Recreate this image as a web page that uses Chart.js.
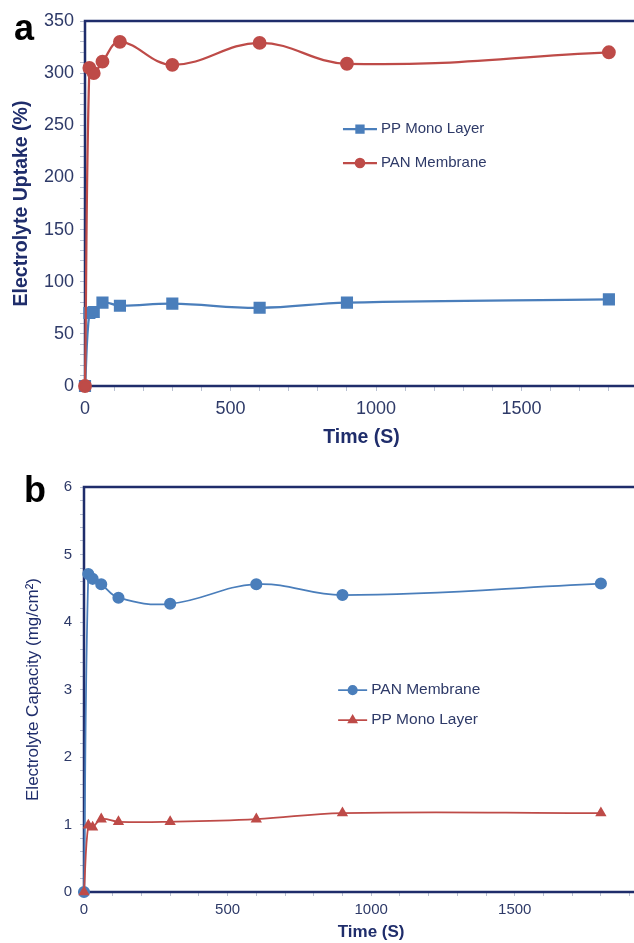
<!DOCTYPE html>
<html>
<head>
<meta charset="utf-8">
<script src="https://cdn.jsdelivr.net/npm/chart.js@4"></script>
<style>
    body { margin:0; width:634px; height:943px; overflow:hidden; background:#fff; position:relative; font-family:'Liberation Sans', Arial, sans-serif; }
    .panel { position:absolute; left:0; }
    .letter { position:absolute; font-weight:bold; font-size:36px; color:#000; line-height:1; }
</style>
</head>
<body>
<div class="panel" style="top:0; width:650px; height:470px;"><canvas id="chartA"></canvas></div>
<div class="panel" style="top:470px; width:680px; height:473px;"><canvas id="chartB"></canvas></div>
<div class="letter" style="left:14px; top:10px;">a</div>
<div class="letter" style="left:24px; top:472px;">b</div>
<script>
// time points (s)
const timeA = [0, 15, 30, 60, 120, 300, 600, 900, 1800];
const timeB = [0, 15, 30, 60, 120, 300, 600, 900, 1800];

// panel a: electrolyte uptake (%)
const uptakePP  = [0, 70, 71, 80, 77, 79, 75, 80, 83];
const uptakePAN = [0, 305, 300, 311, 330, 308, 329, 309, 320];

// panel b: electrolyte capacity (mg/cm2)
const capacityPAN = [0, 4.71, 4.64, 4.56, 4.36, 4.27, 4.56, 4.40, 4.57];
const capacityPP  = [0, 0.99, 0.96, 1.08, 1.04, 1.04, 1.08, 1.17, 1.17];

const BLUE = '#4a7ebb';
const RED = '#be4b48';
const NAVY = '#1f2d6b';
const TICKTXT = '#2e3a68';
const MINOR = '#b9c0d2';

function toXY(xs, ys) {
    return xs.map(function (x, i) { return {x: x, y: ys[i]}; });
}

const framePlugin = {
    id: 'frame',
    beforeDatasetsDraw(chart) {
        const {ctx, chartArea: {left, right, top, bottom}} = chart;
        ctx.save();
        ctx.strokeStyle = NAVY;
        ctx.lineWidth = 2.5;
        ctx.strokeRect(left, top, right - left, bottom - top);
        ctx.restore();
    }
};

const insideLegend = {
    id: 'insideLegend',
    afterDatasetsDraw(chart, args, opts) {
        const {ctx, chartArea: {left, top, width, height}} = chart;
        let x = left + width * opts.fx;
        let y = top + height * opts.fy;
        ctx.save();
        ctx.font = opts.font;
        ctx.textBaseline = 'middle';
        chart.data.datasets.forEach(function (ds) {
            ctx.strokeStyle = ds.borderColor;
            ctx.lineWidth = ds.borderWidth;
            ctx.beginPath();
            ctx.moveTo(x, y);
            ctx.lineTo(x + opts.lineLen, y);
            ctx.stroke();
            ctx.fillStyle = ds.pointBackgroundColor;
            ctx.strokeStyle = ds.pointBackgroundColor;
            Chart.helpers.drawPoint(ctx, {
                pointStyle: ds.pointStyle,
                radius: opts.markerR[ds.pointStyle] || 4,
                rotation: 0,
                borderWidth: 1
            }, x + opts.lineLen / 2, y);
            ctx.fillStyle = TICKTXT;
            ctx.fillText(ds.label, x + opts.lineLen + 4, y);
            y += opts.gap;
        });
        ctx.restore();
    }
};

function lineSet(label, data, color, style, r, bw, order) {
    return {
        label: label,
        data: data,
        borderColor: color,
        backgroundColor: color,
        pointBackgroundColor: color,
        pointBorderColor: color,
        pointStyle: style,
        pointRadius: r,
        pointHoverRadius: r,
        borderWidth: bw,
        tension: 0.4,
        clip: false,
        order: order
    };
}

function minorLabel(step) {
    return function (v) {
        const q = v / step;
        return Math.abs(q - Math.round(q)) < 1e-6 ? String(Math.round(v * 10) / 10) : '';
    };
}

new Chart(document.getElementById('chartA'), {
    type: 'line',
    data: {
        datasets: [
            lineSet('PP Mono Layer', toXY(timeA, uptakePP), BLUE, 'rect', 7, 2.25, 1),
            lineSet('PAN Membrane', toXY(timeA, uptakePAN), RED, 'circle', 5.8, 2.25, 0)
        ]
    },
    options: {
        responsive: true,
        maintainAspectRatio: false,
        animation: false,
        layout: { padding: { top: 21, right: 12, left: 0, bottom: 0 } },
        plugins: {
            legend: { display: false },
            tooltip: { enabled: false },
            insideLegend: {
                fx: 0.4665, fy: 0.296, gap: 34, lineLen: 34,
                font: "15px 'Liberation Sans', Arial, sans-serif",
                markerR: { rect: 5, circle: 4.2 }
            }
        },
        scales: {
            x: {
                type: 'linear',
                min: 0, max: 1900,
                border: { display: false },
                grid: { drawOnChartArea: false, color: MINOR, tickLength: 5 },
                ticks: { stepSize: 100, autoSkip: false, maxRotation: 0, padding: 7, color: TICKTXT,
                         font: { family: "'Liberation Sans', Arial", size: 18 }, callback: minorLabel(500) },
                title: { display: true, text: 'Time (S)', color: NAVY, padding: { top: 0, bottom: 21 },
                         font: { family: "'Liberation Sans', Arial", size: 19.5, weight: 'bold' } },
                afterFit: function (s) { s.height = 84; }
            },
            y: {
                min: 0, max: 350,
                border: { display: false },
                grid: { drawOnChartArea: false, color: MINOR, tickLength: 5 },
                ticks: { stepSize: 10, autoSkip: false, padding: 6, color: TICKTXT,
                         font: { family: "'Liberation Sans', Arial", size: 18 }, callback: minorLabel(50) },
                title: { display: true, text: 'Electrolyte Uptake (%)', color: NAVY, padding: { top: 10, bottom: 0 },
                         font: { family: "'Liberation Sans', Arial", size: 19.5, weight: 'bold' } },
                afterFit: function (s) { s.width = 85; }
            }
        }
    },
    plugins: [framePlugin, insideLegend]
});

new Chart(document.getElementById('chartB'), {
    type: 'line',
    data: {
        datasets: [
            lineSet('PAN Membrane', toXY(timeB, capacityPAN), BLUE, 'circle', 5.2, 1.75, 1),
            lineSet('PP Mono Layer', toXY(timeB, capacityPP), RED, 'triangle', 4.8, 1.75, 0)
        ]
    },
    options: {
        responsive: true,
        maintainAspectRatio: false,
        animation: false,
        layout: { padding: { top: 17, right: 13, left: 0, bottom: 0 } },
        plugins: {
            legend: { display: false },
            tooltip: { enabled: false },
            insideLegend: {
                fx: 0.4425, fy: 0.5016, gap: 30, lineLen: 29,
                font: "15.5px 'Liberation Sans', Arial, sans-serif",
                markerR: { circle: 4.2, triangle: 4.5 }
            }
        },
        scales: {
            x: {
                type: 'linear',
                min: 0, max: 2000,
                border: { display: false },
                grid: { drawOnChartArea: false, color: MINOR, tickLength: 4 },
                ticks: { stepSize: 100, autoSkip: false, maxRotation: 0, padding: 5, color: TICKTXT,
                         font: { family: "'Liberation Sans', Arial", size: 15 }, callback: minorLabel(500) },
                title: { display: true, text: 'Time (S)', color: NAVY, padding: { top: 0, bottom: 0 },
                         font: { family: "'Liberation Sans', Arial", size: 17, weight: 'bold' } },
                afterFit: function (s) { s.height = 51; }
            },
            y: {
                min: 0, max: 6,
                border: { display: false },
                grid: { drawOnChartArea: false, color: MINOR, tickLength: 4 },
                ticks: { stepSize: 0.2, autoSkip: false, padding: 8, color: TICKTXT,
                         font: { family: "'Liberation Sans', Arial", size: 15 }, callback: minorLabel(1) },
                title: { display: true, text: 'Electrolyte Capacity (mg/cm²)', color: NAVY, padding: { top: 23, bottom: 0 },
                         font: { family: "'Liberation Sans', Arial", size: 17 } },
                afterFit: function (s) { s.width = 84; }
            }
        }
    },
    plugins: [framePlugin, insideLegend]
});
</script>
</body>
</html>
